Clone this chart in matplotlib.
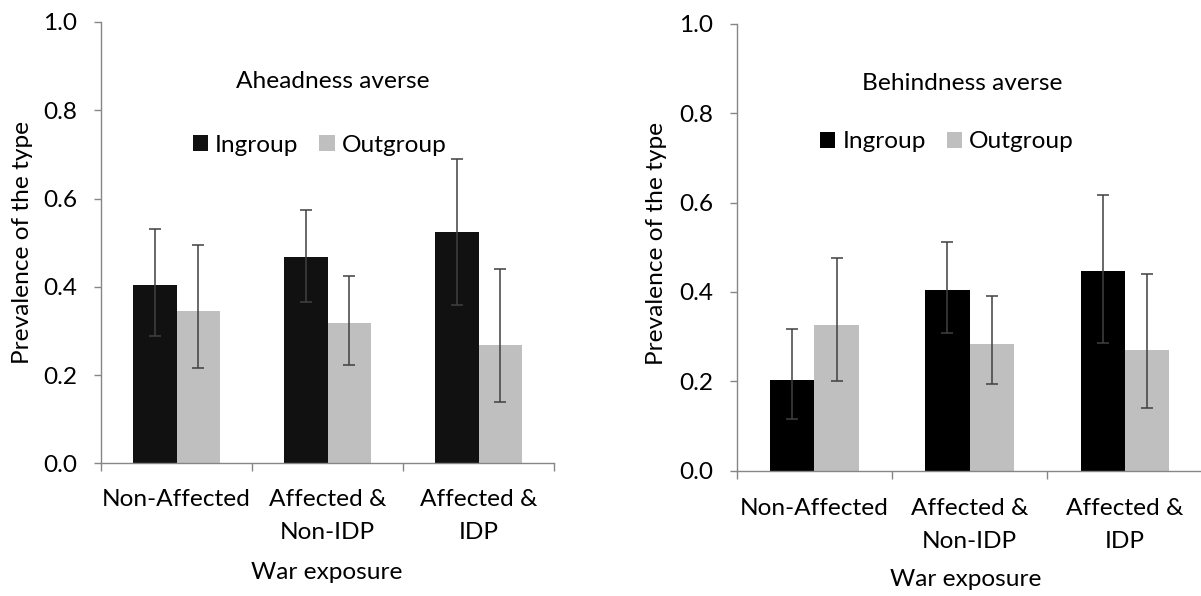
import matplotlib
matplotlib.use("Agg")
import matplotlib.pyplot as plt
from matplotlib.patches import Patch
import numpy as np

plt.rcParams['font.family'] = ['Lato', 'DejaVu Sans']

categories = ["Non-Affected", "Affected &\nNon-IDP", "Affected &\nIDP"]
series_names = ["Ingroup", "Outgroup"]
yticks = [0.0, 0.2, 0.4, 0.6, 0.8, 1.0]
ytick_labels = ["0.0", "0.2", "0.4", "0.6", "0.8", "1.0"]

# Panel 1: Aheadness averse
ahead_in = [0.404, 0.467, 0.525]
ahead_in_hi = [0.530, 0.574, 0.690]
ahead_in_lo = [0.288, 0.365, 0.358]
ahead_out = [0.346, 0.317, 0.268]
ahead_out_hi = [0.495, 0.425, 0.441]
ahead_out_lo = [0.216, 0.222, 0.138]

# Panel 2: Behindness averse
behind_in = [0.203, 0.405, 0.446]
behind_in_hi = [0.317, 0.511, 0.617]
behind_in_lo = [0.115, 0.307, 0.286]
behind_out = [0.326, 0.283, 0.270]
behind_out_hi = [0.475, 0.390, 0.441]
behind_out_lo = [0.200, 0.193, 0.139]

W, H = 1201, 596
fig = plt.figure(figsize=(W / 100, H / 100), dpi=100)

def rect(l, r, t, b):
    return [l / W, 1 - b / H, (r - l) / W, (b - t) / H]

def fx(x):
    return x / W

def fy(y):
    return 1 - y / H

FS = 17.6
YLFS = 17.6
SPINE = "#868686"
ECOL = "#404040"

def panel(r, vin, vin_hi, vin_lo, vout, vout_hi, vout_lo, in_color, title,
          title_xy, legend_xy, xlabel_xy, ylabel_xy, xpad):
    ax = fig.add_axes(r)
    n = len(categories)
    x = np.arange(n) + 0.5
    w = 1 / 3.5
    vin = np.array(vin); vout = np.array(vout)
    err_in = [vin - np.array(vin_lo), np.array(vin_hi) - vin]
    err_out = [vout - np.array(vout_lo), np.array(vout_hi) - vout]
    ekw = dict(ecolor=ECOL, elinewidth=1.1, capsize=4.4, capthick=1.1)
    ax.bar(x - w / 2, vin, w, color=in_color, yerr=err_in, error_kw=ekw, zorder=2)
    ax.bar(x + w / 2, vout, w, color="#bfbfbf", yerr=err_out, error_kw=ekw, zorder=2)
    ax.set_xlim(0, n)
    ax.set_ylim(0, 1.0)
    for s in ["top", "right"]:
        ax.spines[s].set_visible(False)
    for s in ["left", "bottom"]:
        ax.spines[s].set_color(SPINE)
        ax.spines[s].set_linewidth(1.0)
    ax.set_yticks(yticks)
    ax.set_yticklabels(ytick_labels)
    ax.tick_params(axis="y", direction="out", length=5, width=1.0, color=SPINE,
                   pad=12, labelsize=FS)
    ax.set_xticks(np.arange(n + 1))
    ax.set_xticklabels([])
    ax.tick_params(axis="x", which="major", direction="out", length=6, width=1.0,
                   color=SPINE)
    ax.set_xticks(x, minor=True)
    ax.set_xticklabels(categories, minor=True)
    ax.tick_params(axis="x", which="minor", length=0, pad=xpad, labelsize=FS)
    for lbl in ax.get_xticklabels(minor=True):
        lbl.set_linespacing(1.72)
    fig.text(fx(title_xy[0]), fy(title_xy[1]), title, ha="center", va="baseline",
             fontsize=FS)
    handles = [Patch(facecolor=in_color, edgecolor="none"),
               Patch(facecolor="#bfbfbf", edgecolor="none")]
    ax.legend(handles, series_names, ncol=2, loc="center",
              bbox_to_anchor=(fx(legend_xy[0]), fy(legend_xy[1])),
              bbox_transform=fig.transFigure, frameon=False, fontsize=FS,
              handlelength=0.62, handleheight=0.62, handletextpad=0.3,
              columnspacing=0.85, borderpad=0, borderaxespad=0)
    ax.set_xlabel("War exposure", fontsize=FS)
    ax.xaxis.set_label_coords(fx(xlabel_xy[0]), fy(xlabel_xy[1]),
                              transform=fig.transFigure)
    ax.xaxis.label.set_verticalalignment("baseline")
    ax.set_ylabel("Prevalence of the type", fontsize=YLFS)
    ax.yaxis.set_label_coords(fx(ylabel_xy[0]), fy(ylabel_xy[1]),
                              transform=fig.transFigure)
    return ax

panel(rect(101, 554, 22, 463.3), ahead_in, ahead_in_hi, ahead_in_lo,
      ahead_out, ahead_out_hi, ahead_out_lo, "#111111", "Aheadness averse",
      (333, 88), (319.7, 145), (327, 579.3), (32.7, 242.3), 18.5)

panel(rect(736.7, 1202.6, 24, 470.5), behind_in, behind_in_hi, behind_in_lo,
      behind_out, behind_out_hi, behind_out_lo, "#000000", "Behindness averse",
      (962.5, 90), (946.8, 142), (966, 585.7), (667.3, 243.5), 19.5)

fig.savefig("out.png", dpi=100)
